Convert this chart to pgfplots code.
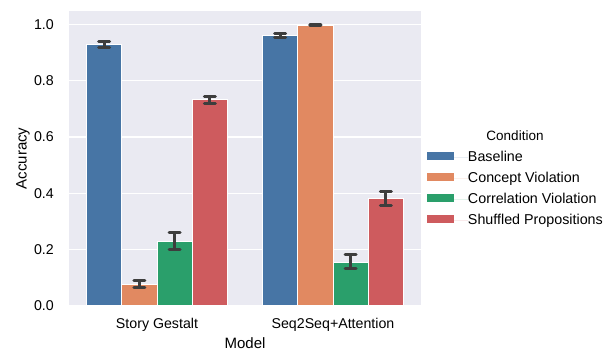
\documentclass[border=0pt]{standalone}
\usepackage{pgfplots}
\pgfplotsset{compat=1.18}
\usepackage{fontspec}
\setmainfont{Liberation Sans}
\definecolor{cB}{HTML}{4775A5}
\definecolor{cC}{HTML}{E18961}
\definecolor{cR}{HTML}{2A9F6B}
\definecolor{cS}{HTML}{CE5B5E}
\definecolor{bgc}{HTML}{EAEAF2}
\definecolor{errc}{HTML}{3D3D3D}
\pgfplotsset{mybar/.style={ybar, bar width=0.2, bar shift=0pt, draw=white, line width=1pt, forget plot,
    error bars/y dir=both, error bars/y explicit, error bars/error mark=|,
    error bars/error bar style={line width=3pt, color=errc},
    error bars/error mark options={line width=3pt, color=errc, mark size=5.5pt, line cap=round}}}
\begin{document}
\begin{tikzpicture}
\useasboundingbox (0,0) rectangle (615pt,352pt);
\begin{axis}[
  at={(69pt,46pt)}, anchor=south west,
  scale only axis, width=352pt, height=295pt,
  xmin=-0.5, xmax=1.5, ymin=0, ymax=1.047,
  axis background/.style={fill=bgc},
  axis line style={draw=none},
  major tick length=0pt,
  ytick={0,0.2,0.4,0.6,0.8,1.0},
  yticklabels={0.0,0.2,0.4,0.6,0.8,1.0},
  xtick={0,1}, xticklabels={Story Gestalt,Seq2Seq+Attention},
  ymajorgrids, grid style={white, line width=1.3pt},
  tick label style={font=\fontsize{14.2}{17}\selectfont},
  yticklabel style={inner sep=0pt, xshift=-15pt},
  xticklabel style={anchor=base, inner sep=0pt, yshift=-23pt},
  xlabel={Model}, ylabel={Accuracy},
  label style={font=\fontsize{15}{18}\selectfont},
  x label style={at={([yshift=-42.5pt]axis description cs:0.5,0)}, anchor=base, inner sep=0pt},
  y label style={at={([xshift=-42.5pt]axis description cs:0,0.5)}, anchor=base, inner sep=0pt},
  legend image code/.code={\fill[#1, draw=none] (0pt,-2.5pt) rectangle (27pt,5.5pt); \path[draw=none] (0pt,0pt) -- (41pt,0pt);},
  legend cell align=left,
  legend style={at={(axis description cs:1.017,0.5254)}, anchor=north west, draw=none, fill=none,
    inner sep=0pt, outer sep=0pt, row sep=8pt, column sep=0pt,
    font=\fontsize{14.3}{17}\selectfont,
    nodes={inner sep=0pt, text height=10pt, text depth=3pt}},
]
\addplot[mybar, fill=cB] coordinates {(-0.3,0.929) += (0,0.011) -= (0,0.012) (0.7,0.961) += (0,0.007) -= (0,0.007)};
\addplot[mybar, fill=cC] coordinates {(-0.1,0.076) += (0,0.016) -= (0,0.012) (0.9,0.996) += (0,0.002) -= (0,0.002)};
\addplot[mybar, fill=cR] coordinates {(0.1,0.228) += (0,0.032) -= (0,0.028) (1.1,0.155) += (0,0.028) -= (0,0.023)};
\addplot[mybar, fill=cS] coordinates {(0.3,0.732) += (0,0.013) -= (0,0.012) (1.3,0.382) += (0,0.026) -= (0,0.024)};
\addlegendimage{fill=cB}\addlegendentry{Baseline}
\addlegendimage{fill=cC}\addlegendentry{Concept Violation}
\addlegendimage{fill=cR}\addlegendentry{Correlation Violation}
\addlegendimage{fill=cS}\addlegendentry{Shuffled Propositions}
\end{axis}
\node[anchor=base, font=\fontsize{13.5}{16}\selectfont, inner sep=0pt] at (515pt,211.5pt) {Condition};
\end{tikzpicture}
\end{document}
